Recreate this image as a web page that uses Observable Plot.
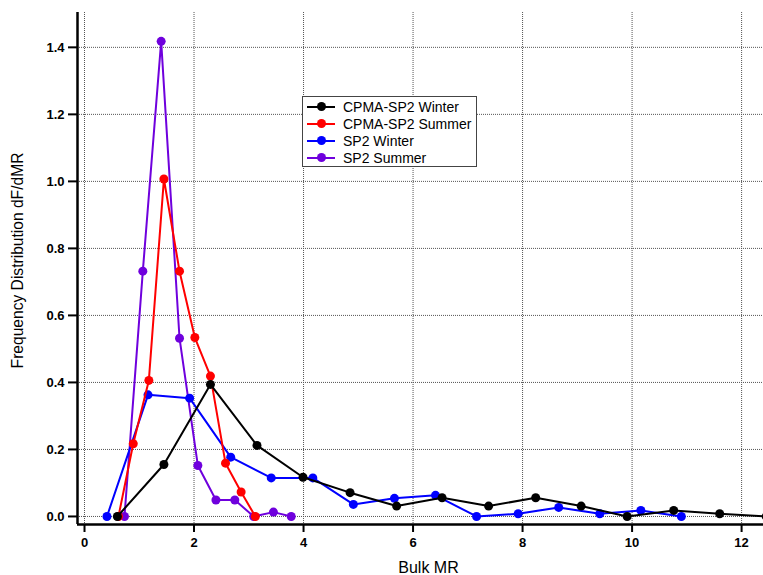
<!DOCTYPE html>
<html>
<head>
<meta charset="utf-8">
<script src="https://cdn.jsdelivr.net/npm/d3@7"></script>
<script src="https://cdn.jsdelivr.net/npm/@observablehq/plot@0.6"></script>
<style>
  html, body { margin: 0; padding: 0; background: #fff; overflow: hidden; }
  #wrap { position: relative; width: 763px; height: 575px; font-family: "Liberation Sans", Arial, sans-serif; }
  #legend { position: absolute; left: 302px; top: 96px; width: 175px; height: 71px; border: 1px solid #444; background: #fff; box-sizing: border-box; }
  .row { position: absolute; left: 0; height: 17px; display: flex; align-items: center; font-size: 14px; color: #000; white-space: nowrap; }
  .sw { position: relative; width: 28px; height: 17px; margin-left: 4px; margin-right: 8px; }
  .sw .ln { position: absolute; left: 0; right: 0; top: 7.5px; height: 2px; }
  .sw .dt { position: absolute; left: 9.5px; top: 4px; width: 9px; height: 9px; border-radius: 50%; }
</style>
</head>
<body>
<div id="wrap"></div>
<script>
// Series (Bulk MR, dF/dMR)
const seriesNames = ["CPMA-SP2 Winter", "CPMA-SP2 Summer", "SP2 Winter", "SP2 Summer"];
const seriesColors = ["#000000", "#ff0000", "#0000ff", "#6f00dd"];

const cpmaWinterX = [0.60, 1.45, 2.30, 3.15, 3.99, 4.85, 5.70, 6.53, 7.38, 8.24, 9.07, 9.91, 10.76, 11.60, 12.45];
const cpmaWinterY = [0.0, 0.155, 0.394, 0.212, 0.117, 0.071, 0.031, 0.056, 0.031, 0.056, 0.031, 0.0, 0.018, 0.008, 0.0];

const cpmaSummerX = [0.62, 0.89, 1.175, 1.45, 1.735, 2.015, 2.30, 2.575, 2.86, 3.12];
const cpmaSummerY = [0.0, 0.217, 0.406, 1.007, 0.732, 0.534, 0.419, 0.159, 0.073, 0.0];

const sp2WinterX = [0.41, 1.16, 1.92, 2.67, 3.41, 4.17, 4.91, 5.66, 6.41, 7.16, 7.92, 8.66, 9.41, 10.16, 10.90];
const sp2WinterY = [0.0, 0.363, 0.353, 0.177, 0.115, 0.115, 0.036, 0.054, 0.063, 0.0, 0.008, 0.027, 0.008, 0.018, 0.0];

const sp2SummerX = [0.73, 1.065, 1.40, 1.735, 2.07, 2.40, 2.745, 3.09, 3.45, 3.775];
const sp2SummerY = [0.0, 0.732, 1.418, 0.532, 0.152, 0.049, 0.049, 0.0, 0.013, 0.0];

const xTicks = [0, 2, 4, 6, 8, 10, 12];
const yTicks = [0.0, 0.2, 0.4, 0.6, 0.8, 1.0, 1.2, 1.4];

function rows(xs, ys, name) { return xs.map((x, i) => ({x, y: ys[i], name})); }
const dCW = rows(cpmaWinterX, cpmaWinterY, seriesNames[0]);
const dCS = rows(cpmaSummerX, cpmaSummerY, seriesNames[1]);
const dSW = rows(sp2WinterX, sp2WinterY, seriesNames[2]);
const dSS = rows(sp2SummerX, sp2SummerY, seriesNames[3]);

// draw order: purple, blue, red, black
const drawOrder = [[dSS, 3], [dSW, 2], [dCS, 1], [dCW, 0]];

const marks = [
  Plot.gridX(xTicks, {stroke: "#555", strokeOpacity: 1, strokeDasharray: "1,1", strokeWidth: 1}),
  Plot.gridY(yTicks, {stroke: "#555", strokeOpacity: 1, strokeDasharray: "1,1", strokeWidth: 1}),
];
for (const [d, i] of drawOrder) {
  marks.push(Plot.line(d, {x: "x", y: "y", stroke: seriesColors[i], strokeWidth: 2, clip: true}));
  marks.push(Plot.dot(d, {x: "x", y: "y", fill: seriesColors[i], r: 4.5, clip: true}));
}
marks.push(
  Plot.axisX({ticks: xTicks, tickSize: 8, tickPadding: 5, tickFormat: d3.format("d"), fontSize: 13, fontWeight: "bold", strokeWidth: 2, label: null}),
  Plot.axisY({ticks: yTicks, tickSize: 9, tickPadding: 4, tickFormat: d3.format(".1f"), fontSize: 13, fontWeight: "bold", strokeWidth: 2, label: null}),
  Plot.ruleX([-0.128], {stroke: "#000", strokeWidth: 2.5}),
  Plot.ruleY([-0.024], {stroke: "#000", strokeWidth: 2.5}),
  Plot.text(["Bulk MR"], {frameAnchor: "bottom", lineAnchor: "bottom", textAnchor: "middle", dx: 8, dy: 48, fontSize: 16, fill: "#000"}),
  Plot.text(["Frequency Distribution dF/dMR"], {frameAnchor: "left", textAnchor: "middle", dx: -60, dy: -8, rotate: -90, fontSize: 15.6, fill: "#000"})
);

const chart = Plot.plot({
  width: 763,
  height: 575,
  marginLeft: 77,
  marginRight: 0,
  marginTop: 12,
  marginBottom: 51,
  style: {fontFamily: "'Liberation Sans', Arial, sans-serif", fontSize: "13px", color: "#000", background: "#fff", overflow: "visible"},
  x: {domain: [-0.128, 12.40]},
  y: {domain: [-0.024, 1.504]},
  marks
});
const wrap = document.getElementById("wrap");
wrap.appendChild(chart);

// Legend
const legend = document.createElement("div");
legend.id = "legend";
seriesNames.forEach((n, i) => {
  const r = document.createElement("div");
  r.className = "row";
  r.style.top = (1 + i * 17) + "px";
  r.innerHTML = `<div class="sw"><div class="ln" style="background:${seriesColors[i]}"></div><div class="dt" style="background:${seriesColors[i]}"></div></div><span>${n}</span>`;
  legend.appendChild(r);
});
wrap.appendChild(legend);
</script>
</body>
</html>
